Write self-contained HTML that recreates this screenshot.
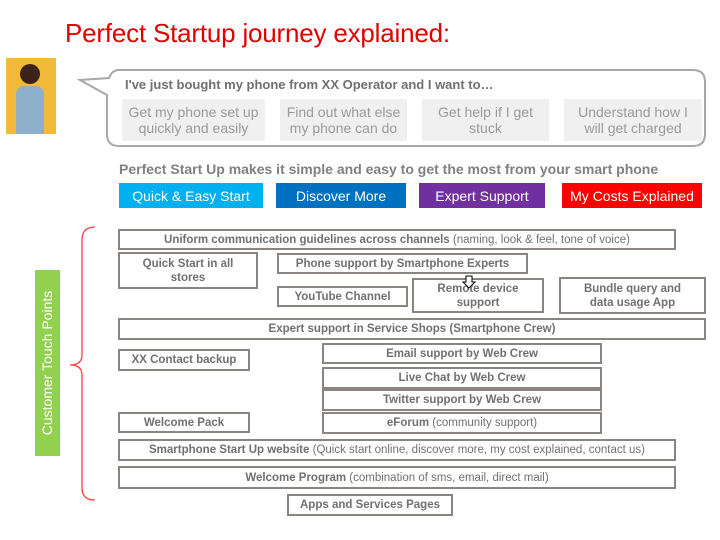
<!DOCTYPE html>
<html><head><style>
body{margin:0;width:720px;height:540px;background:#fff;position:relative;overflow:hidden;font-family:"Liberation Sans",Arial,sans-serif}
.a{position:absolute;box-sizing:border-box}
.b{position:absolute;box-sizing:border-box;border:2px solid #8a8580;color:#707070;font-weight:bold;font-size:11.5px;display:flex;align-items:center;justify-content:center;text-align:center;line-height:14px;background:#fff}
.n{font-weight:normal}
.g{position:absolute;box-sizing:border-box;padding:0 6px;background:#f0f0f0;color:#9a9a9a;font-size:14px;display:flex;align-items:center;justify-content:center;text-align:center;line-height:16px}
.btn{position:absolute;color:#fff;font-size:14px;display:flex;align-items:center;justify-content:center;top:183px;height:25px}
</style></head><body>
<div class="a" style="left:65px;top:18px;color:#e00000;font-size:26px;white-space:nowrap;letter-spacing:-0.2px">Perfect Startup journey explained:</div>
<div class="a" style="left:6px;top:58px;width:50px;height:76px;background:#f3b93a"></div>
<div class="a" style="left:20px;top:64px;width:20px;height:20px;border-radius:50%;background:#3a2418"></div>
<div class="a" style="left:16px;top:86px;width:28px;height:48px;background:#8fb0cc;border-radius:8px 8px 0 0"></div>
<svg class="a" style="left:0;top:0" width="720" height="540">
<path d="M119 70 H693 Q705 70 705 82 V134 Q705 146 693 146 H119 Q107 146 107 134 V95 L80 80 L109 78 Q112 70 119 70 Z" fill="#fff" stroke="#a8a8a8" stroke-width="2"/>
<path d="M95 227 Q82 227 82 240 V355 Q82 365 70 365 Q82 365 82 375 V488 Q82 500 95 500" fill="none" stroke="#ff4040" stroke-width="1.3"/>
</svg>
<div class="a" style="left:125px;top:77px;color:#707070;font-weight:bold;font-size:13px;white-space:nowrap">I've just bought my phone from XX Operator and I want to…</div>
<div class="g" style="left:122px;top:99px;width:143px;height:42px">Get my phone set up quickly and easily</div>
<div class="g" style="left:280px;top:99px;width:127px;height:42px">Find out what else my phone can do</div>
<div class="g" style="left:422px;top:99px;width:127px;height:42px">Get help if I get stuck</div>
<div class="g" style="left:564px;top:99px;width:138px;height:42px;padding:0 12px">Understand how I will get charged</div>
<div class="a" style="left:119px;top:161px;color:#808080;font-weight:bold;font-size:14px;white-space:nowrap">Perfect Start Up makes it simple and easy to get the most from your smart phone</div>
<div class="btn" style="left:119px;width:144px;background:#00b0f0">Quick &amp; Easy Start</div>
<div class="btn" style="left:276px;width:130px;background:#0070c0">Discover More</div>
<div class="btn" style="left:419px;width:126px;background:#7030a0">Expert Support</div>
<div class="btn" style="left:562px;width:140px;background:#ff0000">My Costs Explained</div>
<div class="a" style="left:35px;top:270px;width:25px;height:186px;background:#92d050"></div>
<div class="a" style="left:47px;top:363px;transform:translate(-50%,-50%) rotate(-90deg);color:#fff;font-size:14px;white-space:nowrap">Customer Touch Points</div>
<div class="b" style="left:118px;top:229px;width:558px;height:21px">Uniform communication guidelines across channels&nbsp;<span class="n">(naming, look &amp; feel, tone of voice)</span></div>
<div class="b" style="left:118px;top:252px;width:140px;height:37px">Quick Start in all<br>stores</div>
<div class="b" style="left:277px;top:253px;width:251px;height:21px">Phone support by Smartphone Experts</div>
<div class="b" style="left:277px;top:286px;width:131px;height:21px">YouTube Channel</div>
<div class="b" style="left:412px;top:278px;width:132px;height:35px">Remote device<br>support</div>
<div class="b" style="left:559px;top:277px;width:147px;height:37px">Bundle query and<br>data usage App</div>
<div class="b" style="left:118px;top:318px;width:588px;height:22px">Expert support in Service Shops (Smartphone Crew)</div>
<div class="b" style="left:118px;top:349px;width:132px;height:22px">XX Contact backup</div>
<div class="b" style="left:322px;top:343px;width:280px;height:21px">Email support by Web Crew</div>
<div class="b" style="left:322px;top:367px;width:280px;height:22px">Live Chat by Web Crew</div>
<div class="b" style="left:322px;top:389px;width:280px;height:22px">Twitter support by Web Crew</div>
<div class="b" style="left:118px;top:412px;width:132px;height:21px">Welcome Pack</div>
<div class="b" style="left:322px;top:412px;width:280px;height:22px">eForum&nbsp;<span class="n">(community support)</span></div>
<div class="b" style="left:118px;top:439px;width:558px;height:22px">Smartphone Start Up website&nbsp;<span class="n">(Quick start online, discover more, my cost explained, contact us)</span></div>
<div class="b" style="left:118px;top:466px;width:558px;height:23px">Welcome Program&nbsp;<span class="n">(combination of sms, email, direct mail)</span></div>
<div class="b" style="left:287px;top:494px;width:166px;height:22px">Apps and Services Pages</div>
<svg class="a" style="left:0;top:0" width="720" height="540">
<path d="M466 276 h6 v6 h3 l-6 6 l-6 -6 h3 z" fill="#fff" stroke="#000" stroke-width="1"/>
</svg>
</body></html>
